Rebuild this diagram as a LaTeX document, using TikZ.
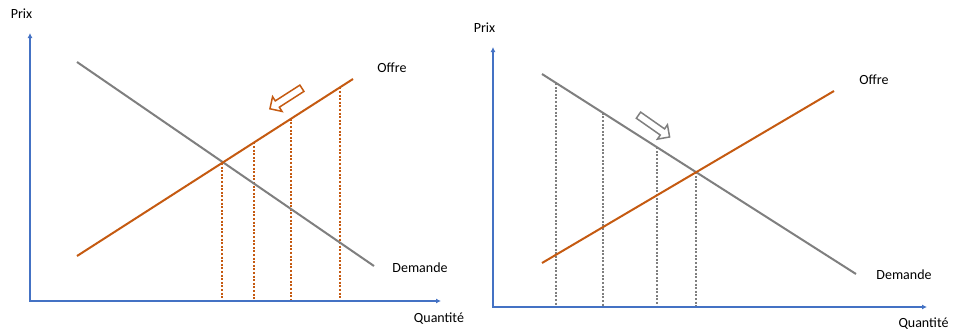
\documentclass[tikz,border=0pt]{standalone}
\usepackage{fontspec}
\setmainfont{Carlito}
\usepackage{tikz}
\usetikzlibrary{arrows.meta}
\usetikzlibrary{shapes.arrows}
\usetikzlibrary{calc}
\definecolor{axisblue}{HTML}{4472C4}
\definecolor{offreorange}{HTML}{C55A11}
\definecolor{demandegray}{HTML}{7F7F7F}

\begin{document}
\begin{tikzpicture}[x=1pt,y=-1pt,
  axis/.style={line width=2pt,axisblue,{Latex[length=5pt,width=5pt]}-{Latex[length=5pt,width=5pt]}},
  courbe/.style={line width=2pt},
  pointille/.style={line width=2.4pt,dash pattern=on 2pt off 1.6pt},
  fleche/.style={single arrow,draw,line width=1.5pt,minimum height=38pt,inner sep=3pt,single arrow head extend=5pt}]
\fontsize{14}{16}\selectfont
\useasboundingbox (0,0) rectangle (954,333);
% graphe de gauche : l'offre baisse
\coordinate (Y1) at (30,33);
\coordinate (O1) at (30,301);
\coordinate (X1) at (441,301);
\coordinate (D1a) at (77,62);
\coordinate (D1b) at (374,266);
\coordinate (S1a) at (77,256);
\coordinate (S1b) at (353,79);
\foreach \x/\n in {222/a,254/b,291/c,340/d} {
  \coordinate (p1\n) at ($(S1a)!{(\x-77)/276}!(S1b)$);
  \draw[pointille,offreorange] (p1\n) -- (p1\n |- O1);
}
\draw[axis] (Y1) -- (O1) -- (X1);
\draw[courbe,demandegray] (D1a) -- (D1b);
\draw[courbe,offreorange] (S1a) -- (S1b);
\node[fleche,offreorange,rotate=212.7] (glisse1) at (287.5,97.5) {};
\node (prix1) at (21.5,14) {Prix};
\node (offre1) at (392,68) {Offre};
\node (demande1) at (420,268) {Demande};
\node (quantite1) at (439,319) {Quantité};
% graphe de droite : la demande baisse
\coordinate (Y2) at (493,47);
\coordinate (O2) at (493,307);
\coordinate (X2) at (927,307);
\coordinate (D2a) at (542,74);
\coordinate (D2b) at (856,274);
\coordinate (S2a) at (542,263);
\coordinate (S2b) at (834,91);
\foreach \x/\n in {556/a,603/b,657/c,696/d} {
  \coordinate (p2\n) at ($(D2a)!{(\x-542)/314}!(D2b)$);
  \draw[pointille,demandegray] (p2\n) -- (p2\n |- O2);
}
\draw[axis] (Y2) -- (O2) -- (X2);
\draw[courbe,demandegray] (D2a) -- (D2b);
\draw[courbe,offreorange] (S2a) -- (S2b);
\node[fleche,demandegray,rotate=-35] (glisse2) at (652.5,125) {};
\node (prix2) at (484.5,28) {Prix};
\node (offre2) at (874,80) {Offre};
\node (demande2) at (904,275) {Demande};
\node (quantite2) at (923.5,324) {Quantité};
\end{tikzpicture}
\end{document}
